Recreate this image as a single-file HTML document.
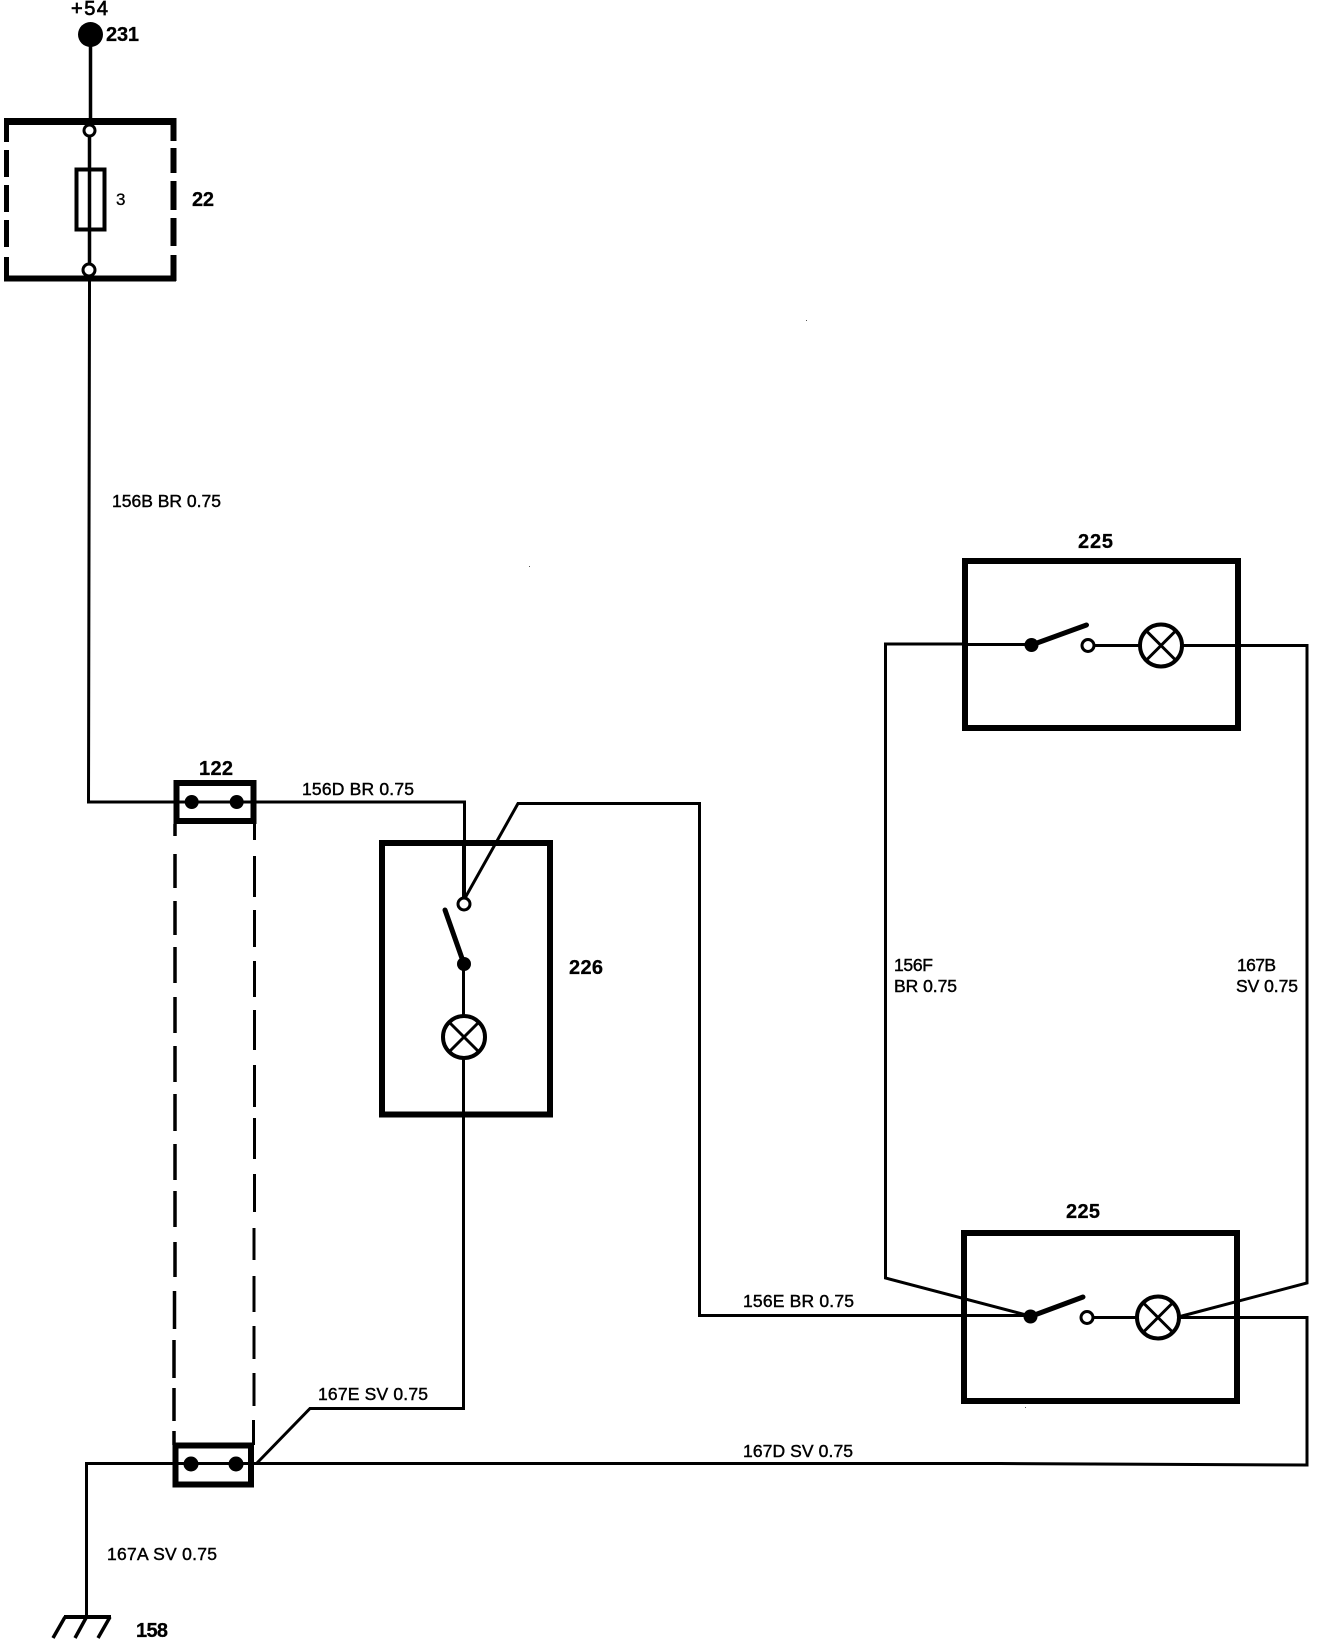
<!DOCTYPE html>
<html><head><meta charset="utf-8"><style>
html,body{margin:0;padding:0;background:#fff}
svg{display:block}
text{font-family:"Liberation Sans",sans-serif;fill:#000}
.l{font-size:17.5px;stroke:#000;stroke-width:.45}
.b{font-size:20px;font-weight:bold;stroke:#000;stroke-width:.3}
</style></head><body>
<svg width="1328" height="1642" viewBox="0 0 1328 1642" xmlns="http://www.w3.org/2000/svg">
<rect width="1328" height="1642" fill="#fff"/>
<g fill="none" stroke="#000" stroke-width="3">
<path d="M90.5 40V120" stroke-width="3.5"/>
<path d="M89.500 130V265" stroke-width="3.500"/>
<path d="M89.500 275V290L88.500 802H176"/>
<path d="M176 802H464.500V900"/>
<path d="M465 898L518 803.500H699.500V1315.500H1030"/>
<path d="M463.500 964V1016M463.500 1058V1408.500H310L257 1463"/>
<path d="M86.500 1618V1463.500H1000L1307 1465V1317.500H1180"/>
<path d="M885.500 1200V644H962M962 644.500H1031"/>
<path d="M885.500 1200V1278L1030 1316"/>
<path d="M1093 645.500H1140M1182 645.500H1307V1283L1180 1316.500"/>
<path d="M1093 1317.500H1137"/>
<path d="M64 1617H111" stroke-width="4"/>
<path d="M65 1617L53 1638M86.500 1617L75 1638M110 1617L98 1638" stroke-width="3.500"/>
</g>
<circle cx="90.500" cy="34.500" r="12.500" fill="#000"/>
<g fill="none" stroke="#000">
<path d="M4 121.500H176" stroke-width="7"/>
<path d="M4 278.500H176" stroke-width="6"/>
<path d="M6.500 118V142M6.500 150V177M6.500 185V212M6.500 220V247M6.500 257V281" stroke-width="5"/>
<path d="M173.500 118V141M173.500 148V173M173.500 181V210M173.500 218V246M173.500 255V281" stroke-width="6"/>
<rect x="76.500" y="169.500" width="28" height="60" stroke-width="4"/>
</g>
<circle cx="89.500" cy="130.500" r="5.500" fill="#fff" stroke="#000" stroke-width="3"/>
<circle cx="89" cy="270" r="6" fill="#fff" stroke="#000" stroke-width="3"/>
<g fill="none" stroke="#000">
<path d="M176.500 783H253.500V821H176.500Z" stroke-width="6"/>
<path d="M175 824V836M175 854V888M175 901V935M175 947V983M175 997V1033M175 1046V1082M175 1094V1131M175 1144V1180M175 1191V1227M175 1242V1277M174.500 1291V1329M174 1340V1378M174 1388V1421M174 1431V1445" stroke-width="3.500"/>
<path d="M254.500 824V840M254.500 856V897M254.500 910V947M254.500 961V997M254.500 1010V1050M254.500 1065V1107M254.500 1118V1159M254.500 1174V1212M254 1228V1260M254 1276V1312M254 1326V1359M254 1373V1406M253.500 1420V1445" stroke-width="3"/>
<path d="M175.500 1445.500H251V1484.500H175.500Z" stroke-width="6"/>
</g>
<circle cx="191.700" cy="802" r="7" fill="#000"/>
<circle cx="236.700" cy="802" r="7" fill="#000"/>
<circle cx="191" cy="1464" r="7.500" fill="#000"/>
<circle cx="236" cy="1464" r="7.500" fill="#000"/>
<rect x="382" y="843" width="168" height="271.500" fill="none" stroke="#000" stroke-width="6"/>
<path d="M463.500 840V900" stroke="#000" stroke-width="3" fill="none"/>
<circle cx="464" cy="904" r="6" fill="#fff" stroke="#000" stroke-width="3"/>
<circle cx="464" cy="964" r="7" fill="#000"/>
<path d="M464 964L445 910" stroke="#000" stroke-width="5" stroke-linecap="round"/>
<circle cx="464" cy="1037" r="21" fill="#fff" stroke="#000" stroke-width="4"/>
<path d="M449 1022L479 1052M479 1022L449 1052" stroke="#000" stroke-width="3"/>
<rect x="965" y="561" width="273" height="167" fill="none" stroke="#000" stroke-width="6"/>
<circle cx="1031.500" cy="645" r="7" fill="#000"/>
<path d="M1031.500 645L1086.500 625" stroke="#000" stroke-width="5" stroke-linecap="round"/>
<circle cx="1088" cy="645.500" r="6" fill="#fff" stroke="#000" stroke-width="3"/>
<circle cx="1161" cy="645.500" r="21" fill="#fff" stroke="#000" stroke-width="4"/>
<path d="M1146 630.500L1176 660.500M1176 630.500L1146 660.500" stroke="#000" stroke-width="3"/>
<rect x="964" y="1233" width="273" height="168" fill="none" stroke="#000" stroke-width="6"/>
<circle cx="1030.500" cy="1316.500" r="7" fill="#000"/>
<path d="M1030.500 1316.500L1083 1297" stroke="#000" stroke-width="5" stroke-linecap="round"/>
<circle cx="1087" cy="1317.500" r="6" fill="#fff" stroke="#000" stroke-width="3"/>
<circle cx="1158" cy="1317.500" r="21" fill="#fff" stroke="#000" stroke-width="4"/>
<path d="M1143 1302.500L1173 1332.500M1173 1302.500L1143 1332.500" stroke="#000" stroke-width="3"/>
<text class="b" x="71" y="15" textLength="37" style="font-weight:normal;stroke-width:.7">+54</text>
<text class="b" x="106" y="41" textLength="33">231</text>
<text class="b" x="192" y="206" textLength="22">22</text>
<text x="116" y="205" font-size="17" stroke="#000" stroke-width=".3" textLength="9">3</text>
<text class="b" x="199" y="775" textLength="34">122</text>
<text class="b" x="569" y="974" textLength="34">226</text>
<text class="b" x="1078" y="548" textLength="35">225</text>
<text class="b" x="1066" y="1218" textLength="34">225</text>
<text class="b" x="136" y="1637" textLength="32">158</text>
<text class="l" x="112" y="507" textLength="109">156B BR 0.75</text>
<text class="l" x="302" y="795" textLength="112">156D BR 0.75</text>
<text class="l" x="743" y="1307" textLength="111">156E BR 0.75</text>
<text class="l" x="894" y="971" textLength="39">156F</text>
<text class="l" x="894" y="992" textLength="63">BR 0.75</text>
<text class="l" x="1237" y="971" textLength="39">167B</text>
<text class="l" x="1236" y="992" textLength="62">SV 0.75</text>
<text class="l" x="318" y="1400" textLength="110">167E SV 0.75</text>
<text class="l" x="743" y="1457" textLength="110">167D SV 0.75</text>
<text class="l" x="107" y="1560" textLength="110">167A SV 0.75</text>
<rect x="806" y="320" width="1" height="1" fill="#555"/>
<rect x="529" y="566" width="1" height="1" fill="#555"/>
<rect x="1025" y="1407" width="1" height="1" fill="#555"/>
</svg>
</body></html>
